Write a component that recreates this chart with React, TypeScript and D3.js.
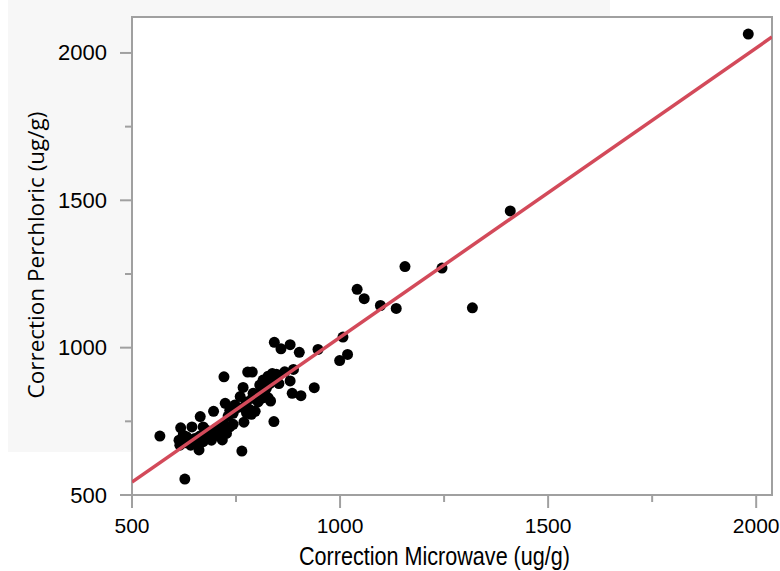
import React, { useEffect, useRef } from 'react';
import * as d3 from 'd3';

// values
const microwave = [
  1981, 1409, 1245, 1156, 1318, 1041, 1058, 1097, 1135, 1007, 1018, 999,
  842, 880, 858, 902, 947, 721, 778, 789, 888, 767, 880, 938, 885, 906,
  760, 724, 833, 696, 664, 796, 769, 841, 567, 617, 644, 764, 627, 661, 717,
  815, 827, 837, 847, 867, 841, 853, 807, 831, 823,
  791, 807, 819, 789, 811, 827, 803, 775,
  747, 755, 735, 769, 783, 775, 787, 743, 731,
  743, 735, 723, 711, 719, 703, 727, 695, 708, 687, 671, 679,
  623, 631, 613, 627, 639, 651, 663, 655, 641, 671, 691, 615
];
const perchloric = [
  2064, 1464, 1270, 1275, 1135, 1198, 1166, 1143, 1133, 1036, 977, 956,
  1018, 1010, 996, 984, 994, 901, 917, 917, 926, 865, 887, 864, 845, 837,
  834, 811, 819, 784, 766, 784, 747, 749, 700, 728, 731, 649, 554, 653, 687,
  890, 903, 912, 910, 918, 890, 878, 873, 878, 862,
  845, 850, 842, 828, 828, 830, 816, 816,
  805, 797, 788, 799, 790, 779, 774, 777, 768,
  740, 731, 737, 731, 720, 726, 709, 713, 703, 703, 731, 720,
  703, 698, 686, 677, 684, 692, 700, 675, 669, 681, 686, 669
];
const xTicks = [500, 1000, 1500, 2000];
const yTicks = [500, 1000, 1500, 2000];
const minorTicks = [750, 1250, 1750];
// fitted line y = a + b x
const fitIntercept = 53;
const fitSlope = 0.982;

const W = 780;
const H = 571;

export default function App() {
  const ref = useRef<SVGSVGElement>(null);

  useEffect(() => {
    const svg = d3.select(ref.current);
    svg.selectAll('*').remove();

    const x = d3.scaleLinear().domain([500, 2038]).range([132, 772]);
    const y = d3.scaleLinear().domain([500, 2122]).range([495, 17]);
    const [x0, x1] = x.range();
    const [y0, y1] = y.range();
    const font = '"Liberation Sans", Arial, sans-serif';

    // old grey backdrop behind the frame
    svg.append('rect')
      .attr('x', 8).attr('y', 0)
      .attr('width', 602).attr('height', 452)
      .attr('fill', '#f7f7f7');

    svg.append('rect')
      .attr('x', x0).attr('y', y1)
      .attr('width', x1 - x0).attr('height', y0 - y1)
      .attr('fill', '#fff');

    const axisCol = '#a0a0a0';

    // x ticks
    const gx = svg.append('g');
    gx.selectAll('line.major').data(xTicks).join('line')
      .attr('x1', d => x(d)).attr('x2', d => x(d))
      .attr('y1', y0).attr('y2', y0 + 13)
      .attr('stroke', axisCol).attr('stroke-width', 2);
    gx.selectAll('line.minor').data(minorTicks).join('line')
      .attr('class', 'minor')
      .attr('x1', d => x(d)).attr('x2', d => x(d))
      .attr('y1', y0).attr('y2', y0 + 7)
      .attr('stroke', axisCol).attr('stroke-width', 2);
    gx.selectAll('text').data(xTicks).join('text')
      .attr('x', d => x(d)).attr('y', 533)
      .attr('text-anchor', 'middle')
      .attr('font-family', font).attr('font-size', 21)
      .text(d => d);

    // y ticks
    const gy = svg.append('g');
    gy.selectAll('line.major').data(yTicks).join('line')
      .attr('y1', d => y(d)).attr('y2', d => y(d))
      .attr('x1', x0 - 12).attr('x2', x0)
      .attr('stroke', axisCol).attr('stroke-width', 2);
    gy.selectAll('line.minor').data(minorTicks).join('line')
      .attr('class', 'minor')
      .attr('y1', d => y(d)).attr('y2', d => y(d))
      .attr('x1', x0 - 7).attr('x2', x0)
      .attr('stroke', axisCol).attr('stroke-width', 2);
    gy.selectAll('text').data(yTicks).join('text')
      .attr('x', 107).attr('y', d => y(d) + 7.5)
      .attr('text-anchor', 'end')
      .attr('font-family', font).attr('font-size', 22)
      .text(d => d);

    // frame
    svg.append('rect')
      .attr('x', x0).attr('y', y1)
      .attr('width', x1 - x0).attr('height', y0 - y1)
      .attr('fill', 'none')
      .attr('stroke', axisCol).attr('stroke-width', 2);

    const plot = svg.append('g');
    svg.append('clipPath').attr('id', 'plotclip')
      .append('rect')
      .attr('x', x0).attr('y', y1)
      .attr('width', x1 - x0).attr('height', y0 - y1);
    plot.attr('clip-path', 'url(#plotclip)');

    plot.selectAll('circle').data(d3.range(microwave.length)).join('circle')
      .attr('cx', i => x(microwave[i]))
      .attr('cy', i => y(perchloric[i]))
      .attr('r', 5.5)
      .attr('fill', '#000');

    const line = d3.line<number>()
      .x(d => x(d))
      .y(d => y(fitIntercept + fitSlope * d));
    plot.append('path')
      .attr('d', line(x.domain()))
      .attr('fill', 'none')
      .attr('stroke', '#d34a5a')
      .attr('stroke-width', 3.5);

    // axis titles
    svg.append('text')
      .attr('x', 299).attr('y', 565)
      .attr('font-family', font)
      .attr('font-size', 26)
      .attr('textLength', 271)
      .attr('lengthAdjust', 'spacingAndGlyphs')
      .text('Correction Microwave (ug/g)');

    svg.append('text')
      .attr('transform', 'translate(44,255) rotate(-90)')
      .attr('text-anchor', 'middle')
      .attr('font-family', '"Open Sans", "Noto Sans", sans-serif')
      .attr('font-size', 22.5)
      .text('Correction Perchloric (ug/g)');
  }, []);

  return (
    <svg
      ref={ref}
      width={W}
      height={H}
      style={{ position: 'absolute', left: 0, top: 0, background: '#fff' }}
    />
  );
}
